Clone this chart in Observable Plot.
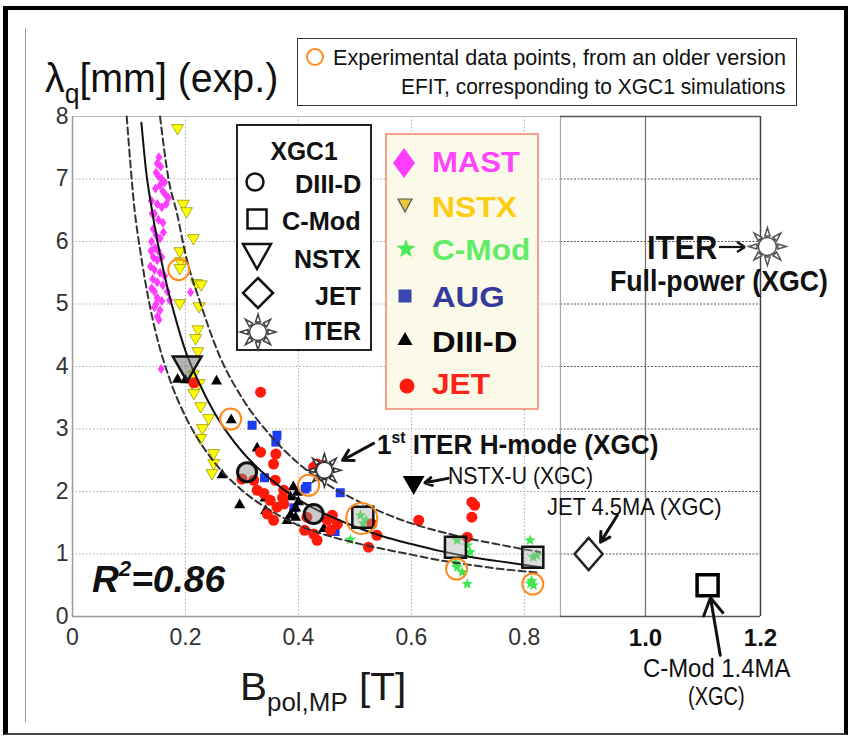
<!DOCTYPE html>
<html><head><meta charset="utf-8">
<script src="https://cdn.jsdelivr.net/npm/d3@7"></script>
<script src="https://cdn.jsdelivr.net/npm/@observablehq/plot@0.6"></script>
<style>
body{margin:0;background:#fff;}
#wrap{position:relative;width:848px;height:736px;overflow:hidden;font-family:"Liberation Sans",Arial,sans-serif;background:#fff;}
#wrap > svg.chart{position:absolute;left:0;top:0;}
.ov{position:absolute;white-space:nowrap;line-height:1;}
.bx{position:absolute;box-sizing:border-box;}
</style></head><body><div id="wrap"></div>
<script>
// ---------------- data ----------------
const xTicks = [0, 0.2, 0.4, 0.6, 0.8];
const xTicksRight = [1.0, 1.2];
const yTicks = [0, 1, 2, 3, 4, 5, 6, 7, 8];
const yGrid = [1, 2, 3, 4, 5, 6, 7];

const mast = [[0.153,7.35],[0.150,7.25],[0.156,7.2],[0.148,7.1],[0.152,7.05],[0.158,7.0],[0.163,6.95],[0.155,6.9],[0.147,6.85],[0.160,6.8],[0.165,6.75],[0.170,6.7],[0.140,6.65],[0.166,6.6],[0.150,6.6],[0.158,6.55],[0.145,6.45],[0.141,6.45],[0.152,6.35],[0.160,6.3],[0.143,6.2],[0.161,6.15],[0.148,6.1],[0.155,6.05],[0.140,6.0],[0.146,5.9],[0.139,5.85],[0.152,5.85],[0.143,5.75],[0.158,5.75],[0.150,5.7],[0.138,5.6],[0.145,5.55],[0.155,5.5],[0.163,5.45],[0.142,5.4],[0.150,5.35],[0.160,5.3],[0.140,5.25],[0.168,5.2],[0.145,5.2],[0.150,5.1],[0.172,5.06],[0.158,5.05],[0.148,5.0],[0.145,4.95],[0.155,4.9],[0.150,4.8],[0.153,4.75],[0.209,5.19],[0.157,3.96]];
const nstx = [[0.186,7.80],[0.196,6.59],[0.202,6.47],[0.214,6.04],[0.190,5.83],[0.191,5.67],[0.190,5.56],[0.219,5.32],[0.228,5.30],[0.190,5.00],[0.224,4.95],[0.222,4.58],[0.218,4.44],[0.222,4.23],[0.214,3.86],[0.212,3.72],[0.224,3.72],[0.215,3.56],[0.227,3.35],[0.241,3.16],[0.230,3.00],[0.227,2.84],[0.250,2.60],[0.250,2.44],[0.247,2.28]];
const cmod = [[0.492,1.23],[0.51,1.62],[0.52,1.54],[0.515,1.49],[0.681,1.22],[0.699,1.14],[0.704,1.03],[0.678,0.86],[0.681,0.79],[0.690,0.71],[0.699,0.52],[0.81,1.22],[0.816,0.95],[0.822,0.98],[0.811,0.53],[0.816,0.50],[0.813,0.57]];
const aug = [[0.318,3.06],[0.362,2.90],[0.360,2.79],[0.340,2.22],[0.415,2.08],[0.392,1.74],[0.474,1.98],[0.465,1.36],[0.412,2.04]];
const diiid = [[0.186,3.81],[0.200,3.80],[0.255,3.78],[0.281,3.16],[0.327,2.71],[0.265,2.28],[0.296,1.80],[0.341,1.91],[0.342,1.71],[0.386,1.93],[0.391,2.09],[0.386,1.64],[0.380,1.55],[0.445,1.42],[0.400,1.85],[0.395,1.60],[0.398,2.0],[0.395,1.75]];
const jet = [[0.333,3.59],[0.215,3.74],[0.333,2.63],[0.356,2.44],[0.360,2.60],[0.321,2.18],[0.327,2.02],[0.339,1.97],[0.350,1.86],[0.362,1.75],[0.345,1.64],[0.356,1.54],[0.359,2.18],[0.374,2.02],[0.374,1.80],[0.415,1.59],[0.427,1.32],[0.433,1.22],[0.411,1.38],[0.427,2.39],[0.433,2.44],[0.451,1.54],[0.457,1.38],[0.469,1.48],[0.524,1.11],[0.539,1.30],[0.530,1.48],[0.613,1.54],[0.707,1.83],[0.712,1.78],[0.707,1.59],[0.699,1.27],[0.30,2.2],[0.372,1.9],[0.46,1.62]];

const fitSolid = [[0.122,7.9],[0.13,7.15],[0.14,6.54],[0.15,6.02],[0.16,5.58],[0.17,5.19],[0.18,4.85],[0.2,4.25],[0.225,3.72],[0.25,3.28],[0.275,2.93],[0.3,2.64],[0.35,2.2],[0.4,1.87],[0.45,1.63],[0.5,1.44],[0.55,1.28],[0.6,1.16],[0.65,1.05],[0.7,0.96],[0.75,0.89],[0.828,0.79]];
const fitUpper = [[0.155,8.0],[0.17,7.0],[0.185,6.45],[0.2,5.8],[0.227,5.0],[0.259,4.2],[0.3,3.5],[0.35,2.9],[0.4,2.45],[0.45,2.12],[0.5,1.87],[0.55,1.66],[0.6,1.49],[0.65,1.36],[0.7,1.25],[0.75,1.16],[0.828,1.03]];
const fitLower = [[0.096,8.0],[0.11,6.5],[0.12,5.85],[0.135,5.06],[0.15,4.45],[0.17,3.85],[0.2,3.2],[0.225,2.8],[0.25,2.48],[0.3,2.02],[0.35,1.7],[0.4,1.46],[0.45,1.3],[0.5,1.18],[0.55,1.08],[0.6,0.99],[0.65,0.9],[0.7,0.83],[0.75,0.77],[0.828,0.70]];

const xgcDIIID = [[0.309,2.31],[0.427,1.64]];
const xgcCMod = [[0.514,1.59],[0.678,1.11],[0.815,0.95]];
const xgcNSTX = [[0.203,3.99]];
const xgcITER = [[0.446,2.34]];
const nstxU = [[0.604,2.12]];
const jet45MA = [[0.909,1.0]];
const cmod14MA = [[1.108,0.5]];
const iterFull = [[1.212,5.92]];
const oldEfit = [[0.188,5.55],[0.280,3.16],[0.418,2.10],[0.680,0.76],[0.815,0.52]];
const oldEfitCMod = [[0.512,1.57]];
// annotation arrows: [x1, y1, x2, y2]
const arrows = [[0.533,2.77,0.478,2.50],[0.665,2.21,0.624,2.14],[0.955,1.62,0.928,1.19],[1.130,-0.62,1.113,0.30]];
const panelBreak = 0.864;

// ---------------- custom symbols ----------------
const R = s => Math.sqrt(s / Math.PI);
const triDown = {draw(c, s){ const r = R(s); c.moveTo(-1.15*r,-0.85*r); c.lineTo(1.15*r,-0.85*r); c.lineTo(0,1.15*r); c.closePath(); }};
const triUp = {draw(c, s){ const r = R(s); c.moveTo(0,-1.1*r); c.lineTo(1.1*r,0.85*r); c.lineTo(-1.1*r,0.85*r); c.closePath(); }};
const tallDiamond = {draw(c, s){ const r = R(s); c.moveTo(0,-r); c.lineTo(0.7*r,0); c.lineTo(0,r); c.lineTo(-0.7*r,0); c.closePath(); }};
const diamond = {draw(c, s){ const r = R(s); c.moveTo(0,-1.15*r); c.lineTo(r,0); c.lineTo(0,1.15*r); c.lineTo(-r,0); c.closePath(); }};
const squareSym = {draw(c, s){ const r = R(s); c.moveTo(-r,-r); c.lineTo(r,-r); c.lineTo(r,r); c.lineTo(-r,r); c.closePath(); }};
const starSym = {draw(c, s){ const r = R(s); for (let i = 0; i < 10; i++){ const a = -Math.PI/2 + i*Math.PI/5, rr = i % 2 ? r*0.42 : r; const px = rr*Math.cos(a), py = rr*Math.sin(a); if (i) c.lineTo(px,py); else c.moveTo(px,py);} c.closePath(); }};
const sunSym = {draw(c, s){ const r = R(s); c.moveTo(r,0); c.arc(0,0,r,0,2*Math.PI); for (let i = 0; i < 8; i++){ const a = i*Math.PI/4 - Math.PI/2, b = 0.24, r1 = 1.2*r, r2 = 2.1*r; c.moveTo(r1*Math.cos(a-b), r1*Math.sin(a-b)); c.lineTo(r2*Math.cos(a), r2*Math.sin(a)); c.lineTo(r1*Math.cos(a+b), r1*Math.sin(a+b)); c.closePath(); } }};

const X = d => d[0], Y = d => d[1];
const grid = {stroke: "#aaa", strokeDasharray: "1.5,2", strokeWidth: 1};

const chart = Plot.plot({
  width: 848, height: 736,
  marginTop: 116, marginBottom: 120, marginLeft: 72, marginRight: 88,
  style: {fontFamily: "Liberation Sans, Arial, sans-serif", background: "transparent", overflow: "visible"},
  x: {type: "linear", domain: [0, panelBreak, 1.0, 1.2], range: [72, 560, 645, 760]},
  y: {type: "linear", domain: [0, 8]},
  marks: [
    // grids
    Plot.ruleY(yGrid, {x1: 0, x2: panelBreak, ...grid}),
    Plot.ruleX(xTicks.slice(1), {...grid}),
    Plot.ruleY(yGrid, {x1: panelBreak, x2: 1.2, stroke: "#555", strokeDasharray: "2,1.5", strokeWidth: 1}),
    // frames
    Plot.ruleY([8], {x1: 0, x2: panelBreak, stroke: "#bbb"}),
    Plot.ruleY([0], {x1: 0, x2: panelBreak, stroke: "#999", strokeWidth: 1.5}),
    Plot.ruleX([0], {stroke: "#999", strokeWidth: 1.5}),
    Plot.ruleX([panelBreak], {stroke: "#aaa", strokeWidth: 1.2}),
    Plot.ruleX([1.0], {stroke: "#777", strokeWidth: 1.3}),
    Plot.ruleX([1.2], {stroke: "#444", strokeWidth: 1.5}),
    Plot.ruleY([0, 8], {x1: panelBreak, x2: 1.2, stroke: "#555", strokeWidth: 1.5}),
    // axes
    Plot.axisY({ticks: yTicks, tickSize: 0, tickPadding: 4, fontSize: 23, color: "#333", label: null}),
    Plot.axisX({ticks: xTicks, tickFormat: d => d === 0 ? "0" : d.toFixed(1), tickSize: 0, tickPadding: 12, fontSize: 23, color: "#333", label: null}),
    Plot.axisX({ticks: xTicksRight, tickFormat: d => d.toFixed(1), tickSize: 0, tickPadding: 12, fontSize: 24, fontWeight: "bold", color: "#111", label: null}),
    // experimental data
    Plot.dot(mast, {x: X, y: Y, symbol: tallDiamond, r: 5, fill: "#ff3cff"}),
    Plot.dot(nstx, {x: X, y: Y, symbol: triDown, r: 5.2, fill: "#ffff00", stroke: "#8a8a00", strokeWidth: 0.7}),
    Plot.dot(cmod, {x: X, y: Y, symbol: starSym, r: 6, fill: "#3fe84f"}),
    Plot.dot(aug, {x: X, y: Y, symbol: squareSym, r: 4.5, fill: "#1e3cf0"}),
    Plot.dot(diiid, {x: X, y: Y, symbol: triUp, r: 5, fill: "#000"}),
    Plot.dot(jet, {x: X, y: Y, symbol: "circle", r: 5.5, fill: "#ff1a0a"}),
    // fit curves
    Plot.line(fitLower, {x: X, y: Y, curve: "monotone-x", stroke: "#333", strokeWidth: 2, strokeDasharray: "7,4"}),
    Plot.line(fitUpper, {x: X, y: Y, curve: "monotone-x", stroke: "#333", strokeWidth: 2, strokeDasharray: "7,4"}),
    Plot.line(fitSolid, {x: X, y: Y, curve: "monotone-x", stroke: "#111", strokeWidth: 2}),
    // XGC1 simulations
    Plot.dot(xgcDIIID, {x: X, y: Y, symbol: "circle", r: 9.5, fill: "#888", fillOpacity: 0.45, stroke: "#111", strokeWidth: 3}),
    Plot.dot(xgcCMod, {x: X, y: Y, symbol: squareSym, r: 10.5, fill: "#aaa", fillOpacity: 0.4, stroke: "#111", strokeWidth: 2.5}),
    Plot.dot(xgcNSTX, {x: X, y: Y, symbol: triDown, r: 12.5, fill: "#777", fillOpacity: 0.55, stroke: "#111", strokeWidth: 2.5}),
    Plot.dot(xgcITER, {x: X, y: Y, symbol: sunSym, r: 8, fill: "#fff", stroke: "#333", strokeWidth: 1.5}),
    Plot.dot(nstxU, {x: X, y: Y, symbol: triDown, r: 9.5, fill: "#000"}),
    Plot.dot(jet45MA, {x: X, y: Y, symbol: diamond, r: 14, fill: "#fff", stroke: "#222", strokeWidth: 2.5}),
    Plot.dot(cmod14MA, {x: X, y: Y, symbol: squareSym, r: 10.5, fill: "#fff", stroke: "#000", strokeWidth: 3.5}),
    Plot.dot(iterFull, {x: X, y: Y, symbol: sunSym, r: 9, fill: "#fff", stroke: "#555", strokeWidth: 1.5}),
    // older EFIT points
    Plot.dot(oldEfit, {x: X, y: Y, r: 10.5, stroke: "#ff8a1c", strokeWidth: 2, fill: "none"}),
    Plot.dot(oldEfitCMod, {x: X, y: Y, r: 15.5, stroke: "#ff8a1c", strokeWidth: 2, fill: "none"}),
    // annotation arrows
    Plot.arrow(arrows, {x1: d => d[0], y1: d => d[1], x2: d => d[2], y2: d => d[3], stroke: "#111", strokeWidth: 3, headLength: 11})
  ]
});
chart.classList.add("chart");
const wrap = document.getElementById("wrap");
wrap.appendChild(chart);

// ---------------- HTML overlays ----------------
function box(l, t, w, h, css) {
  const d = document.createElement("div");
  d.className = "bx";
  d.style.cssText += `left:${l}px;top:${t}px;width:${w}px;height:${h}px;` + css;
  wrap.appendChild(d);
}
function txt(html, o) {
  const s = document.createElement("span");
  s.className = "ov";
  s.innerHTML = html;
  s.style.fontSize = o.size + "px";
  s.style.fontWeight = o.weight || "normal";
  if (o.italic) s.style.fontStyle = "italic";
  s.style.color = o.color || "#111";
  s.style.top = (o.y - 0.85 * o.size) + "px";
  s.style.left = o.x + "px";
  wrap.appendChild(s);
  const w = s.offsetWidth;
  const sx = o.w ? o.w / w : 1;
  const a = o.anchor || "start";
  const tx = a === "end" ? -w : a === "middle" ? -w / 2 : 0;
  s.style.transformOrigin = a === "end" ? "right center" : a === "middle" ? "center center" : "left center";
  s.style.transform = `translateX(${tx}px) scaleX(${sx})`;
}
function sym(inner, cx, cy, half) {
  wrap.insertAdjacentHTML("beforeend",
    `<svg class="ov" style="left:${cx - half}px;top:${cy - half}px;overflow:visible" width="${2*half}" height="${2*half}" viewBox="${-half} ${-half} ${2*half} ${2*half}">${inner}</svg>`);
}
function sunD(r) {
  let d = `M${r},0A${r},${r} 0 1,1 ${-r},0A${r},${r} 0 1,1 ${r},0Z`;
  for (let i = 0; i < 8; i++) {
    const a = i*Math.PI/4 - Math.PI/2, b = 0.24, r1 = 1.2*r, r2 = 2.1*r;
    d += `M${r1*Math.cos(a-b)},${r1*Math.sin(a-b)}L${r2*Math.cos(a)},${r2*Math.sin(a)}L${r1*Math.cos(a+b)},${r1*Math.sin(a+b)}Z`;
  }
  return d;
}

// outer frame and slide line
box(3, 6, 845, 729, "border-top:4px solid #000;border-left:5px solid #000;border-right:4px solid #000;border-bottom:2px solid #444;");
box(25, 28, 1, 694, "background:#999;");

// title / axis title
txt(`λ<span style="font-size:27px;position:relative;top:11px">q</span>[mm] (exp.)`, {x: 45, y: 92, size: 40, color: "#111", w: 233});
txt(`B<span style="font-size:25px;position:relative;top:11px">pol,MP</span> [T]`, {x: 240, y: 700, size: 39, color: "#1a1a1a", w: 166});

// older EFIT note box
box(297, 38, 500, 68, "border:1.5px solid #333;background:#fff;");
sym(`<circle r="8" fill="none" stroke="#ff8a1c" stroke-width="2"/>`, 315, 57, 10);
txt("Experimental data points, from an older version", {x: 333, y: 66, size: 22, color: "#111", w: 453});
txt("EFIT, corresponding to XGC1 simulations", {x: 786, y: 95, size: 22, color: "#111", anchor: "end", w: 385});

// XGC1 legend
box(236, 124, 136, 227, "border:2px solid #222;background:#fff;");
txt("XGC1", {x: 304, y: 160, size: 25, weight: "bold", anchor: "middle", w: 67});
txt("DIII-D", {x: 361, y: 193, size: 25, weight: "bold", anchor: "end", w: 66});
txt("C-Mod", {x: 361, y: 230, size: 25, weight: "bold", anchor: "end", w: 79});
txt("NSTX", {x: 361, y: 268, size: 25, weight: "bold", anchor: "end", w: 67});
txt("JET", {x: 361, y: 305, size: 25, weight: "bold", anchor: "end", w: 46});
txt("ITER", {x: 361, y: 340, size: 25, weight: "bold", anchor: "end", w: 57});
sym(`<circle r="8.5" fill="#fff" stroke="#111" stroke-width="2.5"/>`, 255, 182, 12);
sym(`<rect x="-9.5" y="-9.5" width="19" height="19" fill="#fff" stroke="#111" stroke-width="2.5"/>`, 257, 219, 12);
sym(`<path d="M-14,-12L14,-12L0,13Z" fill="#fff" stroke="#111" stroke-width="2.5"/>`, 257, 256, 16);
sym(`<path d="M0,-15L15,0L0,15L-15,0Z" fill="#fff" stroke="#111" stroke-width="2.5"/>`, 258, 293, 17);
sym(`<path d="${sunD(8.5)}" fill="#fff" stroke="#444" stroke-width="1.5"/>`, 258, 332, 20);

// machines legend
box(385, 133, 154, 277, "border:2px solid #f3a08c;background:#fbf9e7;");
const leg = [["MAST", "#ff44ff", 172, 88], ["NSTX", "#ffcc11", 217, 85], ["C-Mod", "#5fec66", 260, 98], ["AUG", "#343a9c", 307, 73], ["DIII-D", "#0a0a0a", 352, 85], ["JET", "#ff2418", 394, 58]];
for (const [name, col, yb, w] of leg) txt(name, {x: 432, y: yb, size: 30, weight: "bold", color: col, w});
sym(`<path d="M0,-15L11,0L0,15L-11,0Z" fill="#ff3cff"/>`, 404, 163, 16);
sym(`<path d="M-7,-6L7,-6L0,7Z" fill="#e6c640" stroke="#555" stroke-width="1.2"/>`, 405, 205, 9);
sym(`<path d="${(() => { let d = ""; for (let i = 0; i < 10; i++) { const a = -Math.PI/2 + i*Math.PI/5, rr = i % 2 ? 4.2 : 10; d += (i ? "L" : "M") + (rr*Math.cos(a)).toFixed(2) + "," + (rr*Math.sin(a)).toFixed(2); } return d + "Z"; })()}" fill="#4be85a"/>`, 406, 249, 11);
sym(`<rect x="-6.5" y="-6.5" width="13" height="13" fill="#3a48b4"/>`, 405, 296, 8);
sym(`<path d="M0,-7L7.5,6L-7.5,6Z" fill="#000"/>`, 405, 339, 9);
sym(`<circle r="7.5" fill="#ff1a0a"/>`, 407, 386, 9);

// R^2
txt(`R<span style="font-size:0.6em;position:relative;top:-0.75em">2</span>=0.86`, {x: 92, y: 593, size: 36, weight: "bold", italic: true, color: "#111", w: 133});

// annotations
txt(`1<span style="font-size:0.6em;position:relative;top:-0.7em">st</span> ITER H-mode (XGC)`, {x: 377, y: 455, size: 27, weight: "bold", color: "#111", w: 281});
txt("NSTX-U (XGC)", {x: 448, y: 484, size: 24, color: "#111", w: 145});
txt("JET 4.5MA (XGC)", {x: 547, y: 515, size: 24, color: "#111", w: 175});
txt("ITER", {x: 647, y: 259, size: 34, weight: "bold", color: "#111", w: 70});
sym(`<path d="M-13,0H11" stroke="#111" stroke-width="2.2" fill="none"/><path d="M13,0L5,-5M13,0L5,5" stroke="#111" stroke-width="2.2" fill="none"/>`, 732, 247, 15);
txt("Full-power (XGC)", {x: 610, y: 291, size: 30, weight: "bold", color: "#111", w: 218});
txt("C-Mod 1.4MA", {x: 643, y: 677, size: 26, color: "#111", w: 147});
txt("(XGC)", {x: 688, y: 705, size: 26, color: "#111", w: 57});
</script>
</body></html>
